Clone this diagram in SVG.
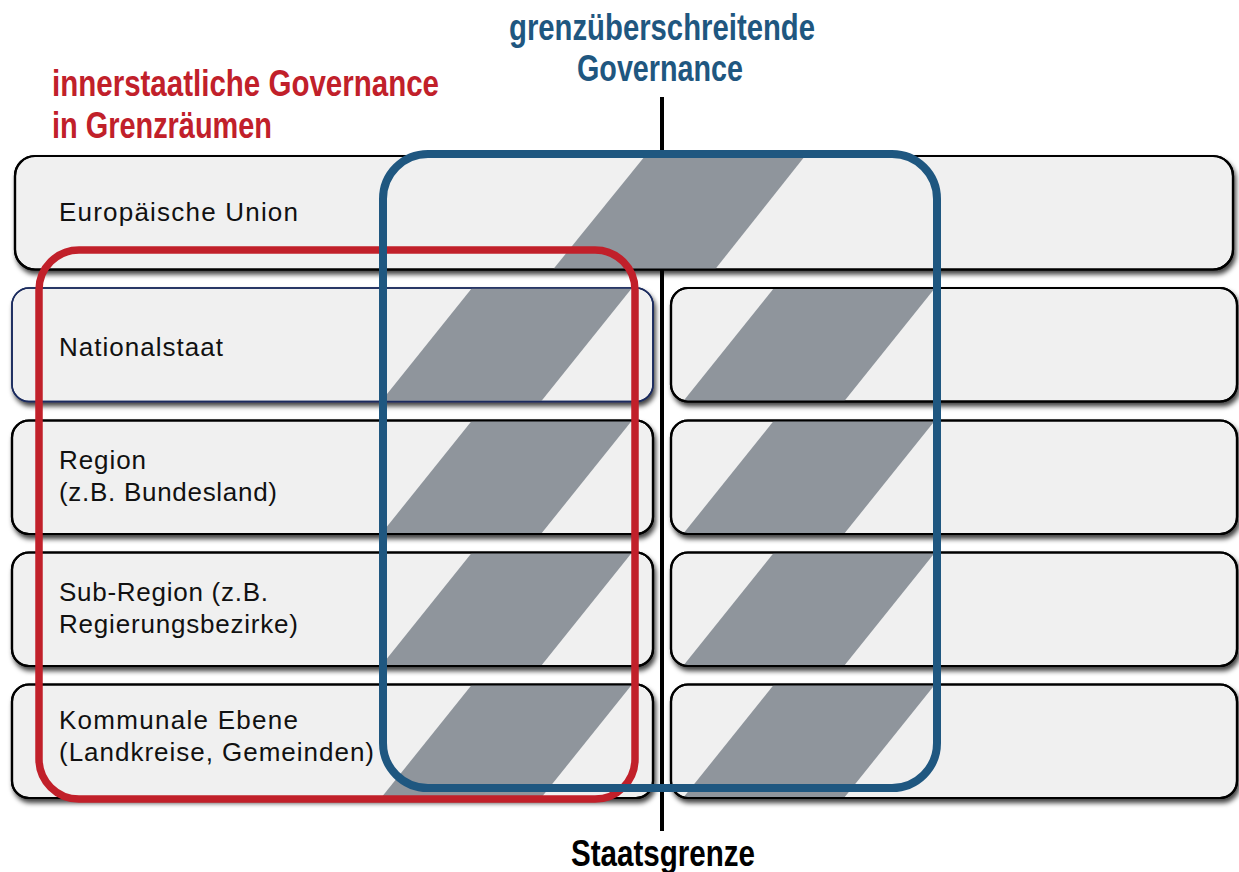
<svg xmlns="http://www.w3.org/2000/svg" width="1239" height="872" viewBox="0 0 1239 872">
  <style>
    .box { fill: #f0f0f0; stroke: #000; stroke-width: 2.2; }
    .edge { fill: none; stroke: #000; stroke-width: 2.2; }
    .edge-nav { fill: none; stroke: #1b2b5e; stroke-width: 1.6; }
    .stripe { fill: #8f959c; }
    .lbl { font-family: "Liberation Sans", Arial, sans-serif; font-size: 26px; fill: #111; }
    .ttl { font-family: "Liberation Sans", Arial, sans-serif; font-weight: bold; font-size: 36px; }
    .red { fill: #c1202a; }
    .blue { fill: #1f5780; }
  </style>
  <defs>
    <filter id="shadow" x="-5%" y="-10%" width="112%" height="130%">
      <feDropShadow dx="2" dy="4" stdDeviation="2.6" flood-color="#000" flood-opacity="0.75"/>
    </filter>
    <!-- box outlines in each row's local coordinates -->
    <clipPath id="clipEU"><rect x="15" y="0" width="1218" height="113.5" rx="20"/></clipPath>
    <clipPath id="clipL"><rect x="12" y="0" width="641" height="113.5" rx="17"/></clipPath>
    <clipPath id="clipR"><rect x="671" y="0" width="566" height="113.5" rx="17"/></clipPath>
  </defs>

  <rect width="1239" height="872" fill="#fff"/>

  <!-- state border line -->
  <g id="connectors">
    <line x1="662" y1="97" x2="662" y2="831" stroke="#000" stroke-width="4"/>
  </g>

  <!-- level: European Union (spans both sides) -->
  <g id="eu" transform="translate(0,156)">
    <rect class="box" x="15" y="0" width="1218" height="113.5" rx="20" filter="url(#shadow)"/>
    <polygon class="stripe" clip-path="url(#clipEU)" points="645,0 805,0 715,113.5 553,113.5"/>
    <rect class="edge" x="15" y="0" width="1218" height="113.5" rx="20"/>
    <text class="lbl" x="59" y="65" textLength="239">Europäische Union</text>
  </g>

  <!-- level: nation state -->
  <g id="national-left" transform="translate(0,288)">
    <rect class="box" x="12" y="0" width="641" height="113.5" rx="17" filter="url(#shadow)" style="stroke:#1b2b5e;stroke-width:1.6"/>
    <polygon class="stripe" clip-path="url(#clipL)" points="472,0 632,0 541,113.5 381,113.5"/>
    <rect class="edge-nav" x="12" y="0" width="641" height="113.5" rx="17"/>
    <text class="lbl" x="59" y="68" textLength="164">Nationalstaat</text>
  </g>
  <g id="national-right" transform="translate(0,288)">
    <rect class="box" x="671" y="0" width="566" height="113.5" rx="17" filter="url(#shadow)"/>
    <polygon class="stripe" clip-path="url(#clipR)" points="774,0 935,0 844,113.5 683,113.5"/>
    <rect class="edge" x="671" y="0" width="566" height="113.5" rx="17"/>
  </g>

  <!-- level: region -->
  <g id="region-left" transform="translate(0,420.5)">
    <rect class="box" x="12" y="0" width="641" height="113.5" rx="17" filter="url(#shadow)"/>
    <polygon class="stripe" clip-path="url(#clipL)" points="472,0 632,0 541,113.5 381,113.5"/>
    <rect class="edge" x="12" y="0" width="641" height="113.5" rx="17"/>
    <text class="lbl" x="59" y="48" textLength="87">Region</text>
    <text class="lbl" x="59" y="80" textLength="218">(z.B. Bundesland)</text>
  </g>
  <g id="region-right" transform="translate(0,420.5)">
    <rect class="box" x="671" y="0" width="566" height="113.5" rx="17" filter="url(#shadow)"/>
    <polygon class="stripe" clip-path="url(#clipR)" points="774,0 935,0 844,113.5 683,113.5"/>
    <rect class="edge" x="671" y="0" width="566" height="113.5" rx="17"/>
  </g>

  <!-- level: sub-region -->
  <g id="subregion-left" transform="translate(0,552.5)">
    <rect class="box" x="12" y="0" width="641" height="113.5" rx="17" filter="url(#shadow)"/>
    <polygon class="stripe" clip-path="url(#clipL)" points="472,0 632,0 541,113.5 381,113.5"/>
    <rect class="edge" x="12" y="0" width="641" height="113.5" rx="17"/>
    <text class="lbl" x="59" y="48" textLength="209">Sub-Region (z.B.</text>
    <text class="lbl" x="59" y="80" textLength="239">Regierungsbezirke)</text>
  </g>
  <g id="subregion-right" transform="translate(0,552.5)">
    <rect class="box" x="671" y="0" width="566" height="113.5" rx="17" filter="url(#shadow)"/>
    <polygon class="stripe" clip-path="url(#clipR)" points="774,0 935,0 844,113.5 683,113.5"/>
    <rect class="edge" x="671" y="0" width="566" height="113.5" rx="17"/>
  </g>

  <!-- level: municipalities -->
  <g id="local-left" transform="translate(0,684.5)">
    <rect class="box" x="12" y="0" width="641" height="113.5" rx="17" filter="url(#shadow)"/>
    <polygon class="stripe" clip-path="url(#clipL)" points="472,0 632,0 541,113.5 381,113.5"/>
    <rect class="edge" x="12" y="0" width="641" height="113.5" rx="17"/>
    <text class="lbl" x="59" y="44" textLength="239">Kommunale Ebene</text>
    <text class="lbl" x="59" y="76" textLength="315">(Landkreise, Gemeinden)</text>
  </g>
  <g id="local-right" transform="translate(0,684.5)">
    <rect class="box" x="671" y="0" width="566" height="113.5" rx="17" filter="url(#shadow)"/>
    <polygon class="stripe" clip-path="url(#clipR)" points="774,0 935,0 844,113.5 683,113.5"/>
    <rect class="edge" x="671" y="0" width="566" height="113.5" rx="17"/>
  </g>

  <!-- governance frames -->
  <g id="frame-domestic">
    <rect x="39" y="250" width="596" height="549" rx="40" fill="none" stroke="#c1202a" stroke-width="7.5"/>
  </g>
  <g id="frame-crossborder">
    <rect x="383" y="154" width="554" height="634" rx="45" fill="none" stroke="#1f5780" stroke-width="8"/>
  </g>

  <!-- headings -->
  <g id="title-domestic">
    <text class="ttl red" x="52" y="96" textLength="387" lengthAdjust="spacingAndGlyphs">innerstaatliche Governance</text>
    <text class="ttl red" x="52" y="138" textLength="220" lengthAdjust="spacingAndGlyphs">in Grenzräumen</text>
  </g>
  <g id="title-crossborder">
    <text class="ttl blue" x="509" y="40" textLength="306" lengthAdjust="spacingAndGlyphs">grenzüberschreitende</text>
    <text class="ttl blue" x="577" y="81" textLength="166" lengthAdjust="spacingAndGlyphs">Governance</text>
  </g>
  <g id="label-border">
    <text class="ttl" x="571" y="866" textLength="184" lengthAdjust="spacingAndGlyphs" fill="#000">Staatsgrenze</text>
  </g>
</svg>
